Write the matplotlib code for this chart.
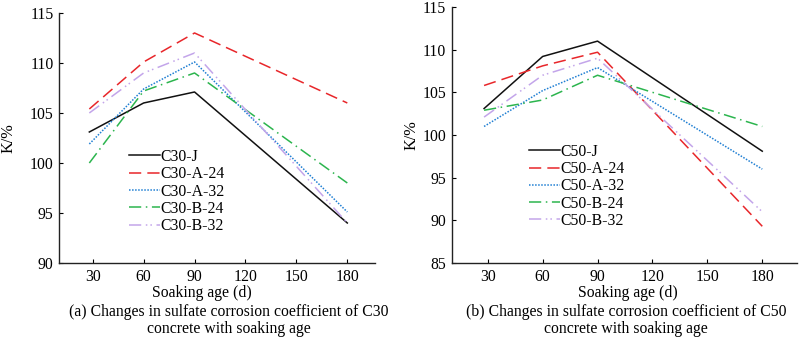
import matplotlib
matplotlib.use("Agg")
import matplotlib.pyplot as plt

plt.rcParams['font.family'] = ['Liberation Serif', 'DejaVu Serif']

# --- data ---
days = [28, 60, 90, 180]
xticks = [30, 60, 90, 120, 150, 180]

c30_labels = ["C30-J", "C30-A-24", "C30-A-32", "C30-B-24", "C30-B-32"]
c30_J = [103.1, 106.0, 107.1, 94.0]
c30_A24 = [105.4, 110.1, 113.0, 106.0]
c30_A32 = [101.9, 107.4, 110.1, 95.1]
c30_B24 = [100.0, 107.2, 109.0, 98.0]
c30_B32 = [105.0, 109.0, 111.0, 94.0]

c50_labels = ["C50-J", "C50-A-24", "C50-A-32", "C50-B-24", "C50-B-32"]
c50_J = [103.1, 109.2, 111.0, 98.1]
c50_A24 = [105.8, 108.1, 109.7, 89.3]
c50_A32 = [101.0, 105.2, 107.9, 96.0]
c50_B24 = [102.9, 104.1, 107.0, 101.0]
c50_B32 = [102.1, 107.0, 109.0, 91.0]

# styles: colour, dash pattern
STYLES = [
    ("#111111", "-"),
    ("#e8262a", (0, (8, 4))),
    ("#1f7fd3", (0, (1, 1))),
    ("#2cb54e", (0, (8, 3, 1, 3))),
    ("#c3a5ea", (0, (8, 3, 1, 2, 1, 3))),
]

FS = 11.3
TICK_FS = 11.3

fig = plt.figure(figsize=(7.99, 3.39), dpi=100)
ax1 = fig.add_axes([0.0742, 0.2242, 0.3951, 0.7375])
ax2 = fig.add_axes([0.5653, 0.2242, 0.4318, 0.7552])


def draw(ax, series, labels, ylim, yticks, xlim, leg_anchor, ylab_x):
    for vals, lab, (col, ls) in zip(series, labels, STYLES):
        ax.plot(days, vals, color=col, linestyle=ls, linewidth=1.1, label=lab)
    ax.set_xlim(*xlim)
    ax.set_ylim(*ylim)
    ax.set_xticks(xticks)
    ax.set_yticks(yticks)
    ax.spines['top'].set_visible(False)
    ax.spines['right'].set_visible(False)
    for s in ['left', 'bottom']:
        ax.spines[s].set_linewidth(1.0)
        ax.spines[s].set_color('#222222')
    ax.tick_params(direction='in', length=3, width=0.8, labelsize=TICK_FS, pad=4)
    ax.set_ylabel("K/%", fontsize=11.8)
    ax.yaxis.set_label_coords(ylab_x, 0.5)
    ax.legend(loc='upper left', bbox_to_anchor=leg_anchor, frameon=False,
              fontsize=FS, handlelength=2.0, handletextpad=0.0,
              labelspacing=0.08, borderpad=0, borderaxespad=0)


draw(ax1, [c30_J, c30_A24, c30_A32, c30_B24, c30_B32], c30_labels,
     (90, 115), [90, 95, 100, 105, 110, 115], (10.3, 196.3), (0.221, 0.456), -0.137)
draw(ax2, [c50_J, c50_A24, c50_A32, c50_B24, c50_B32], c50_labels,
     (85, 115), [85, 90, 95, 100, 105, 110, 115], (10.3, 198.8), (0.224, 0.465), -0.092)

# axis titles and captions
fig.text(202 / 799, 1 - 293 / 339, "Soaking age (d)", ha='center', va='center', fontsize=FS)
fig.text(229 / 799, 1 - 312 / 339, "(a) Changes in sulfate corrosion coefficient of C30",
         ha='center', va='center', fontsize=FS)
fig.text(229 / 799, 1 - 329 / 339, "concrete with soaking age", ha='center', va='center', fontsize=FS)

fig.text(628 / 799, 1 - 293 / 339, "Soaking age (d)", ha='center', va='center', fontsize=FS)
fig.text(626 / 799, 1 - 312 / 339, "(b) Changes in sulfate corrosion coefficient of C50",
         ha='center', va='center', fontsize=FS)
fig.text(626 / 799, 1 - 329 / 339, "concrete with soaking age", ha='center', va='center', fontsize=FS)

fig.savefig("out.png", dpi=100)
